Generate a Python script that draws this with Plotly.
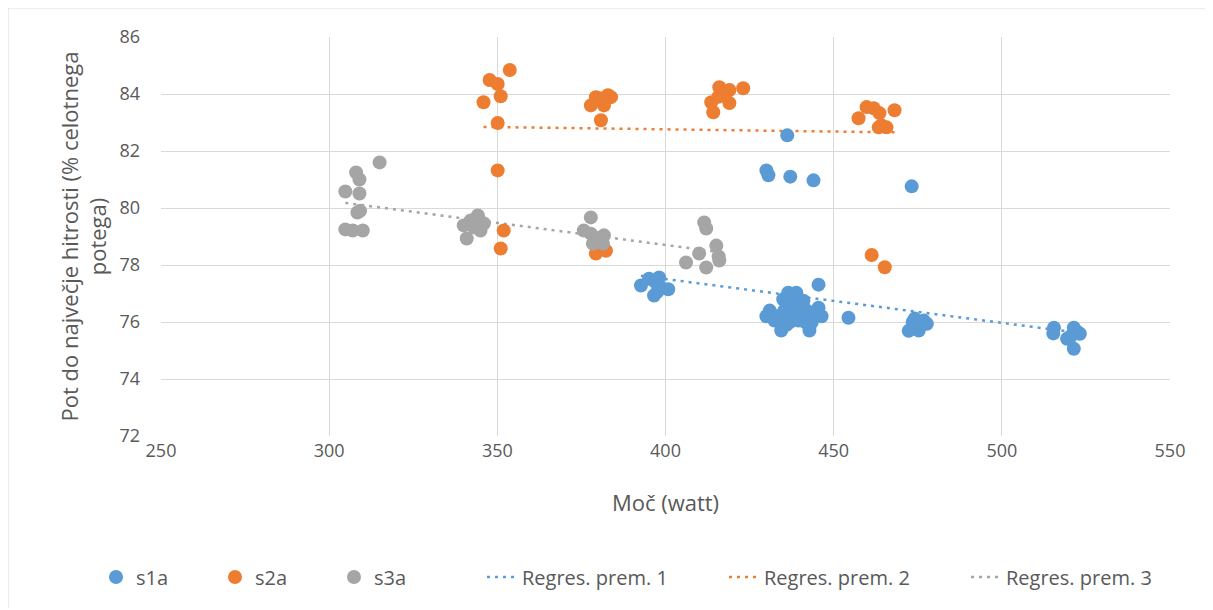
import numpy as np
import plotly.graph_objects as go

# ---- data ----
s1a_x = [392.7, 395.1, 397.0, 398.1, 396.6, 397.5, 400.8, 398.7,
         436.2, 430.0, 430.6, 437.1, 444.0, 473.2,
         430.0, 431.0, 432.4, 434.4, 435.3, 436.5, 437.4, 438.9, 438.0, 439.5,
         440.4, 441.0, 442.5, 442.8, 443.5, 444.0, 445.5, 446.4, 445.5, 454.4,
         436.0, 440.0, 437.0,
         433.0, 434.0, 436.0, 437.5, 438.5, 439.0, 440.5, 441.5, 442.0, 443.0, 435.0, 441.0,
         472.3, 474.1, 475.6, 475.3, 476.8, 477.7, 473.5,
         515.5, 515.3, 519.4, 521.4, 523.2, 521.4, 522.5, 520.5]
s1a_y = [77.28, 77.52, 77.40, 77.56, 76.93, 77.05, 77.15, 77.20,
         82.55, 81.32, 81.15, 81.10, 80.97, 80.76,
         76.20, 76.40, 76.05, 75.70, 76.40, 77.03, 76.50, 77.03, 76.30, 76.05,
         76.64, 76.75, 76.15, 75.70, 76.00, 76.30, 76.50, 76.20, 77.31, 76.15,
         75.90, 76.30, 76.00,
         76.20, 76.10, 76.60, 76.70, 76.40, 76.20, 76.30, 76.00, 76.40, 75.90, 76.80, 76.10,
         75.69, 76.12, 75.98, 75.70, 76.05, 75.94, 76.00,
         75.80, 75.60, 75.41, 75.80, 75.59, 75.06, 75.65, 75.50]

s2a_x = [353.7, 347.7, 350.1, 351.0, 345.9, 350.1, 350.1, 351.9, 351.0,
         377.8, 379.3, 382.9, 383.8, 381.7, 380.8, 380.5, 379.3, 382.3,
         416.0, 419.0, 423.1, 413.6, 419.0, 414.2, 417.5, 415.7,
         457.4, 459.8, 461.9, 463.6, 468.1, 464.2, 465.7, 463.4, 461.3, 465.2]
s2a_y = [84.84, 84.49, 84.35, 83.92, 83.71, 82.98, 81.32, 79.21, 78.58,
         83.60, 83.89, 83.96, 83.89, 83.60, 83.08, 83.85, 78.40, 78.50,
         84.24, 84.14, 84.20, 83.71, 83.68, 83.36, 83.96, 83.90,
         83.15, 83.54, 83.50, 83.33, 83.43, 82.90, 82.83, 82.83, 78.35, 77.92]

s3a_x = [315.0, 308.0, 309.0, 304.8, 309.0, 308.4, 309.2, 304.8, 307.0, 310.0,
         340.0, 344.2, 342.1, 346.0, 345.0, 340.9, 343.0, 344.5, 341.5,
         377.8, 375.7, 377.8, 381.7, 378.4, 381.4, 380.0,
         411.5, 412.1, 415.1, 410.0, 406.1, 412.1, 416.0, 415.8]
s3a_y = [81.60, 81.25, 81.00, 80.58, 80.51, 79.84, 79.90, 79.25, 79.21, 79.21,
         79.39, 79.74, 79.56, 79.46, 79.21, 78.93, 79.32, 79.60, 79.45,
         79.67, 79.21, 79.10, 79.04, 78.75, 78.75, 78.95,
         79.49, 79.28, 78.68, 78.40, 78.09, 77.91, 78.16, 78.30]

x_ticks = [250, 300, 350, 400, 450, 500, 550]
y_ticks = [72, 74, 76, 78, 80, 82, 84, 86]

names = ["s1a", "s2a", "s3a"]
trend_names = ["Regres. prem. 1", "Regres. prem. 2", "Regres. prem. 3"]
colors = ["#5B9BD5", "#ED7D31", "#A5A5A5"]
series = [(s1a_x, s1a_y), (s2a_x, s2a_y), (s3a_x, s3a_y)]

FONT = "Open Sans"
TXT = "#595959"

# figure geometry (page has an 8px body margin)
W, H = 1205, 600
L, R, T, B = 153, 43, 29, 172
PW, PH = W - L - R, H - T - B


def px_x(fx):
    return (fx - L) / PW


def px_y(fy):
    return (H - B - fy) / PH


fig = go.Figure()

# trendlines first (drawn under markers)
for i, (xs, ys) in enumerate(series):
    xs_a = np.array(xs)
    ys_a = np.array(ys)
    k, b = np.polyfit(xs_a, ys_a, 1)
    xl = np.array([xs_a.min(), xs_a.max()])
    fig.add_trace(go.Scatter(
        x=xl, y=k * xl + b, mode="lines", name=trend_names[i],
        line=dict(color=colors[i], width=2.5, dash="3px,5px"),
        legend="legend2", legendrank=4 + i, hoverinfo="skip"))

for i, (xs, ys) in enumerate(series):
    fig.add_trace(go.Scatter(
        x=xs, y=ys, mode="markers", name=names[i],
        marker=dict(color=colors[i], size=14, line=dict(width=0)),
        legend="legend", legendrank=1 + i))

leg_y = px_y(569)
fig.update_layout(
    width=W, height=H,
    margin=dict(l=L, r=R, t=T, b=B, autoexpand=False),
    paper_bgcolor="white", plot_bgcolor="white",
    font=dict(family=FONT, size=18, color=TXT),
    showlegend=True,
    legend=dict(orientation="h", x=px_x(88), xanchor="left", y=leg_y, yanchor="middle",
                font=dict(size=20, color=TXT), entrywidth=74, entrywidthmode="pixels",
                traceorder="normal", bgcolor="rgba(0,0,0,0)"),
    legend2=dict(orientation="h", x=px_x(474), xanchor="left", y=leg_y, yanchor="middle",
                 font=dict(size=20, color=TXT), entrywidth=197, entrywidthmode="pixels",
                 traceorder="normal", bgcolor="rgba(0,0,0,0)"),
    xaxis=dict(range=[250, 550], tickvals=x_ticks, showgrid=True, gridcolor="#D9D9D9",
               gridwidth=1, zeroline=False, showline=False, ticks="",
               ticklabelstandoff=2,
               title=dict(text="Moč (watt)", font=dict(size=22, color=TXT), standoff=34),
               tickfont=dict(size=18, color=TXT)),
    yaxis=dict(range=[72, 86], tickvals=y_ticks, showgrid=True, gridcolor="#D9D9D9",
               gridwidth=1, zeroline=False, showline=False, ticks="",
               ticklabelstandoff=20,
               title=dict(text="Pot do največje hitrosti (% celotnega<br>potega)",
                          font=dict(size=22, color=TXT), standoff=6),
               tickfont=dict(size=18, color=TXT)),
    shapes=[dict(type="rect", xref="paper", yref="paper",
                 x0=px_x(0), x1=px_x(1198),
                 y0=px_y(H + 2), y1=px_y(0),
                 line=dict(color="#D9D9D9", width=1), fillcolor="rgba(0,0,0,0)",
                 layer="below")],
)

fig.write_html("out.html")
